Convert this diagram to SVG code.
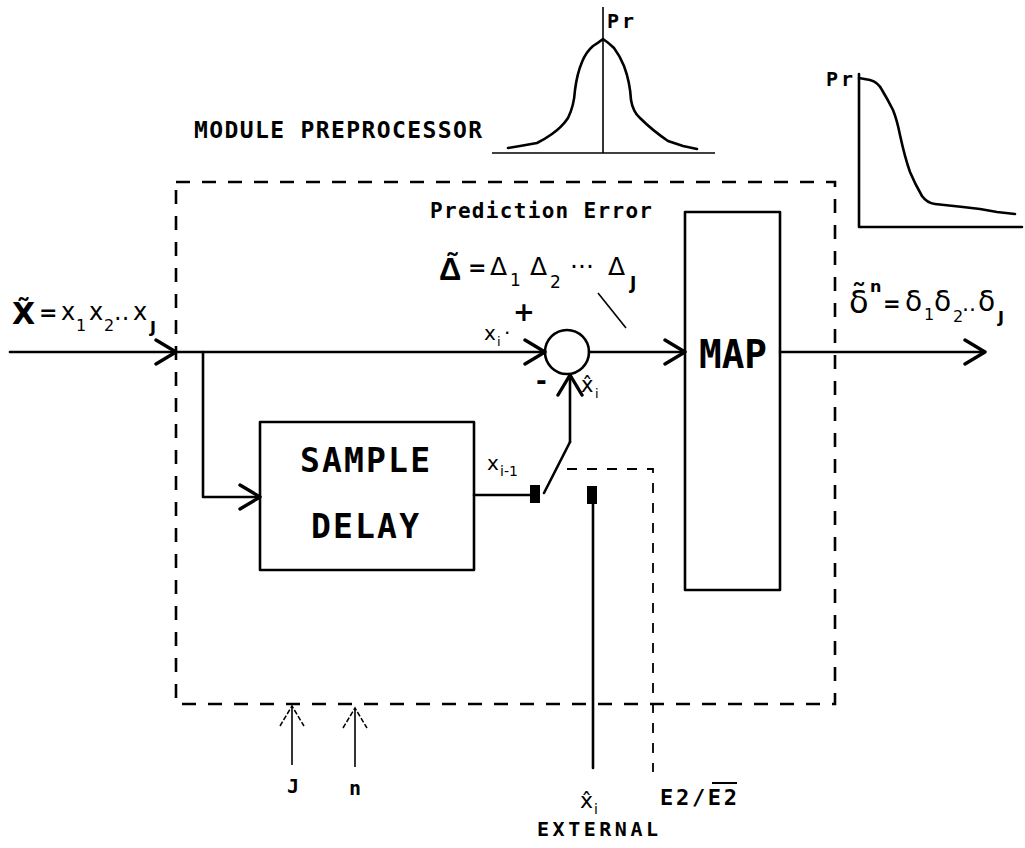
<svg xmlns="http://www.w3.org/2000/svg" width="1025" height="848" viewBox="0 0 1025 848">
<defs>
<style>
.ln{stroke:#000;stroke-width:2.6;fill:none;stroke-linecap:round;stroke-linejoin:round}
.thin{stroke:#000;stroke-width:1.6;fill:none}
.dash{stroke:#000;stroke-width:2.6;fill:none;stroke-dasharray:14 12}
.dashs{stroke:#000;stroke-width:1.8;fill:none;stroke-dasharray:10 10}
.lbl{font-family:"DejaVu Sans Mono","Liberation Mono",monospace;font-weight:bold;fill:#000}
.m{font-family:"DejaVu Sans","Liberation Sans",sans-serif;fill:#000}
.mb{font-family:"DejaVu Sans","Liberation Sans",sans-serif;font-weight:bold;fill:#000}
</style>
<marker id="ah" viewBox="0 0 24 28" refX="22" refY="14" markerWidth="24" markerHeight="28" markerUnits="userSpaceOnUse" orient="auto">
<path d="M2,2 L22,14 L2,26" stroke="#000" stroke-width="3.4" fill="none" stroke-linecap="round" stroke-linejoin="round"/>
</marker>
<marker id="ahs" viewBox="0 0 24 28" refX="22" refY="14" markerWidth="24" markerHeight="28" markerUnits="userSpaceOnUse" orient="auto">
<path d="M2,2 L22,14 L2,26" stroke="#000" stroke-width="1.5" fill="none" stroke-dasharray="5 2"/>
</marker>
</defs>
<rect width="1025" height="848" fill="#fff"/>

<g id="module-preprocessor">
<rect x="176" y="182" width="659" height="522" class="dash"/>
<text class="lbl" x="194" y="138" font-size="23" textLength="288" lengthAdjust="spacing">MODULE PREPROCESSOR</text>
</g>

<g id="prediction-error-distribution">
<line x1="603" y1="7" x2="603" y2="153" class="thin"/>
<line x1="492" y1="153" x2="715" y2="153" class="thin"/>
<path class="ln" stroke-width="2" d="M508,148 L520,146 L537,143 Q545,139 552,134 Q562,127 568,118 Q574,106 575,90 Q577,74 582,62 Q586,52 593,46 Q598,43 603,39 Q609,43 614,48 Q620,56 624,66 Q630,82 631,100 Q633,112 640,118 Q652,130 668,141 L683,146 L697,149"/>
<text class="lbl" x="607" y="28" font-size="20" textLength="27" lengthAdjust="spacing">Pr</text>
</g>

<g id="mapped-distribution">
<polyline points="859,74 859,227 1022,227" class="ln" stroke-width="2"/>
<path class="ln" stroke-width="2" d="M859,78 L870,80 Q878,82 882,90 Q888,100 893,110 Q897,120 900,135 Q905,158 910,172 Q915,184 922,196 Q927,203 935,204 L963,207 L980,209 L997,212 L1015,214"/>
<text class="lbl" x="826" y="86" font-size="20" textLength="27" lengthAdjust="spacing">Pr</text>
</g>

<g id="input-label">
<text class="mb" x="12" y="324" font-size="30">X&#x303;</text>
<text class="mb" x="39" y="320" font-size="22">=</text>
<text class="m" font-size="24"><tspan x="61" y="320">x</tspan><tspan x="76" y="331" font-size="16">1</tspan><tspan x="89" y="320">x</tspan><tspan x="104" y="331" font-size="16">2</tspan><tspan x="114" y="320">..</tspan><tspan x="133" y="320">x</tspan><tspan x="150" y="333" font-size="16" font-weight="bold">J</tspan></text>
</g>

<g id="prediction-error-label">
<text class="lbl" x="430" y="218" font-size="21" textLength="222" lengthAdjust="spacing">Prediction Error</text>
<text x="439" y="280" font-size="31" font-family="Liberation Sans, Arial, sans-serif" font-weight="bold" fill="#000">Δ&#x303;</text>
<text class="mb" x="468" y="275" font-size="22">=</text>
<text class="m" font-size="25"><tspan x="490" y="275">Δ</tspan><tspan x="510" y="286" font-size="17">1</tspan><tspan x="530" y="275">Δ</tspan><tspan x="550" y="288" font-size="17">2</tspan><tspan x="570" y="275">···</tspan><tspan x="608" y="275">Δ</tspan><tspan x="630" y="289" font-size="17" font-weight="bold">J</tspan></text>
<line x1="598" y1="293" x2="626" y2="328" class="thin" stroke-width="2"/>
</g>

<g id="summing-junction">
<circle cx="567" cy="352" r="22" class="ln" stroke-width="2"/>
<text class="mb" x="513" y="321" font-size="26">+</text>
<text class="mb" x="536" y="390" font-size="26">-</text>
<text class="m" font-size="20"><tspan x="484" y="340">x</tspan><tspan x="497" y="346" font-size="13">i</tspan><tspan x="504" y="340">·</tspan></text>
<text class="m" font-size="21"><tspan x="581" y="392">x&#x302;</tspan><tspan x="595" y="398" font-size="13">i</tspan></text>
</g>

<g id="sample-delay">
<rect x="260" y="422" width="214" height="148" class="ln" stroke-width="2"/>
<text class="lbl" x="300" y="472" font-size="33" textLength="130" lengthAdjust="spacing">SAMPLE</text>
<text class="lbl" x="311" y="538" font-size="33" textLength="108" lengthAdjust="spacing">DELAY</text>
</g>

<g id="map">
<rect x="685" y="212" width="95" height="378" class="ln" stroke-width="2"/>
<text class="lbl" x="699" y="368" font-size="39" textLength="68" lengthAdjust="spacingAndGlyphs">MAP</text>
</g>

<g id="switch">
<rect x="530" y="485" width="10" height="18" fill="#000"/>
<rect x="587" y="486" width="10" height="18" fill="#000"/>
<text class="m" font-size="20"><tspan x="487" y="470">x</tspan><tspan x="500" y="476" font-size="14">i-1</tspan></text>
</g>

<g id="output-label">
<text class="m" x="849" y="313" font-size="32">δ&#x303;</text>
<text class="mb" x="870" y="292" font-size="16">n</text>
<text class="mb" x="883" y="311" font-size="21">=</text>
<text class="m" font-size="28"><tspan x="905" y="311">δ</tspan><tspan x="924" y="320" font-size="16">1</tspan><tspan x="934" y="311">δ</tspan><tspan x="953" y="322" font-size="16">2</tspan><tspan x="962" y="311" font-size="22">..</tspan><tspan x="978" y="311">δ</tspan><tspan x="998" y="323" font-size="16" font-weight="bold">J</tspan></text>
</g>

<g id="external-labels">
<text class="lbl" x="287" y="793" font-size="20">J</text>
<text class="lbl" x="349" y="795" font-size="20">n</text>
<text class="m" font-size="22"><tspan x="580" y="808">x&#x302;</tspan><tspan x="594" y="814" font-size="14">i</tspan></text>
<text class="lbl" x="537" y="836" font-size="20" textLength="121" lengthAdjust="spacing">EXTERNAL</text>
<text class="lbl" x="660" y="805" font-size="22" textLength="77" lengthAdjust="spacing">E2/E2</text>
<line x1="712" y1="783" x2="737" y2="783" stroke="#000" stroke-width="2"/>
</g>

<g id="connectors">
<line x1="10" y1="352" x2="176" y2="352" class="ln" marker-end="url(#ah)"/>
<line x1="176" y1="352" x2="545" y2="352" class="ln" marker-end="url(#ah)"/>
<polyline points="203,352 203,497 260,497" class="ln" marker-end="url(#ah)"/>
<line x1="589" y1="352" x2="685" y2="352" class="ln" marker-end="url(#ah)"/>
<line x1="780" y1="352" x2="985" y2="352" class="ln" marker-end="url(#ah)"/>
<line x1="474" y1="495" x2="530" y2="495" class="ln"/>
<line x1="544" y1="493" x2="570" y2="442" class="ln"/>
<line x1="570" y1="442" x2="570" y2="375" class="ln" marker-end="url(#ah)"/>
<line x1="593" y1="504" x2="593" y2="768" class="ln"/>
<polyline points="567,469 653,469 653,772" class="dashs"/>
<line x1="292" y1="765" x2="292" y2="706" class="thin" marker-end="url(#ahs)"/>
<line x1="355" y1="767" x2="355" y2="708" class="thin" marker-end="url(#ahs)"/>
</g>
</svg>
